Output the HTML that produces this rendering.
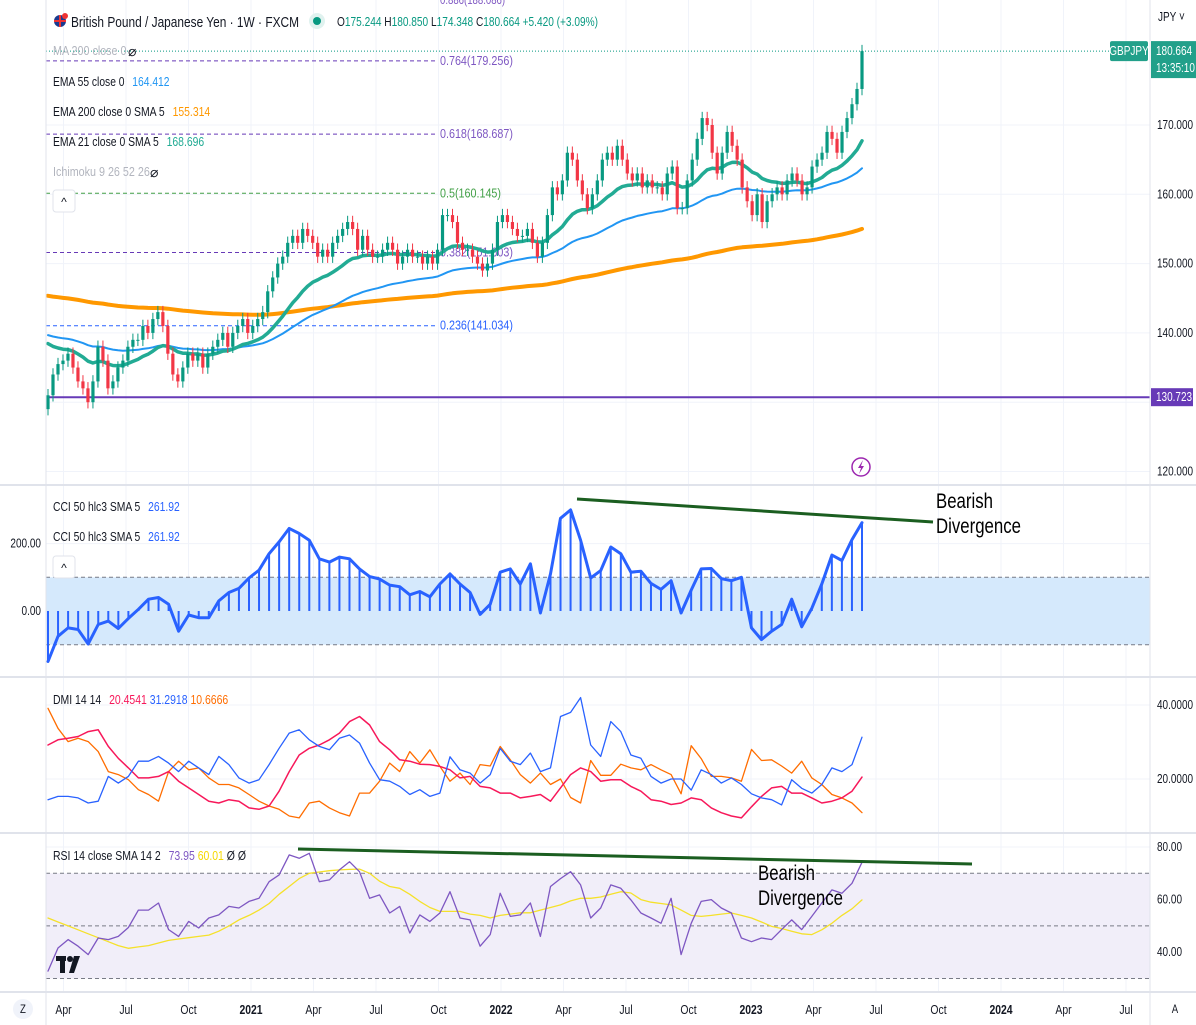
<!DOCTYPE html>
<html><head><meta charset="utf-8">
<style>
html,body{margin:0;padding:0;background:#fff;}
svg{display:block;font-family:"Liberation Sans",sans-serif;}
</style></head>
<body>
<svg id="chart" width="1196" height="1025" viewBox="0 0 1196 1025" xmlns="http://www.w3.org/2000/svg">
<rect x="0" y="0" width="1196" height="1025" fill="#fff"/>
<g id="grid"></g>
<g id="bands"></g>
<g id="price"></g>
<g id="cci"></g>
<g id="dmi"></g>
<g id="rsi"></g>
<g id="axes"></g>

<g>
  <circle cx="60" cy="21" r="6" fill="#1a3a8f"/>
  <path d="M54 21h12M60 15v12" stroke="#e33" stroke-width="2"/>
  <circle cx="65" cy="16" r="3" fill="#e33"/>
  <text x="71" y="27" font-size="15" fill="#131722" textLength="228" lengthAdjust="spacingAndGlyphs">British Pound / Japanese Yen · 1W · FXCM</text>
  <circle cx="317" cy="21" r="8" fill="#e0f2ef"/>
  <circle cx="317" cy="21" r="4" fill="#089981"/>
  <text x="337" y="26" font-size="13" fill="#131722" textLength="261" lengthAdjust="spacingAndGlyphs">O<tspan fill="#089981">175.244</tspan> H<tspan fill="#089981">180.850</tspan> L<tspan fill="#089981">174.348</tspan> C<tspan fill="#089981">180.664 +5.420 (+3.09%)</tspan></text>
  <text class="cz" x="440" y="4" font-size="12" fill="#7e57c2">0.886(188.086)</text>
</g>
<g font-size="12.5">
  <text class="cz cw" x="53" y="55" fill="#b2b5be">MA 200 close 0</text>
  <text x="128" y="56" fill="#131722" font-size="14">⌀</text>
  <text class="cz cw" x="53" y="86" fill="#131722">EMA 55 close 0 <tspan dx="6" fill="#2196f3">164.412</tspan></text>
  <text class="cz cw" x="53" y="116" fill="#131722">EMA 200 close 0 SMA 5 <tspan dx="6" fill="#ff9800">155.314</tspan></text>
  <text class="cz cw" x="53" y="146" fill="#131722">EMA 21 close 0 SMA 5 <tspan dx="6" fill="#22ab94">168.696</tspan></text>
  <text class="cz cw" x="53" y="176" fill="#b2b5be">Ichimoku 9 26 52 26</text>
  <text x="150" y="177" fill="#131722" font-size="14">⌀</text>
  <rect x="53" y="190" width="22" height="22" rx="3" fill="#fff" stroke="#e0e3eb"/>
  <text x="64" y="206" font-size="12" text-anchor="middle" fill="#131722">^</text>
  <text class="cz cw" x="53" y="511" fill="#131722">CCI 50 hlc3 SMA 5 <tspan dx="6" fill="#2962ff">261.92</tspan></text>
  <text class="cz cw" x="53" y="541" fill="#131722">CCI 50 hlc3 SMA 5 <tspan dx="6" fill="#2962ff">261.92</tspan></text>
  <rect x="53" y="556" width="22" height="22" rx="3" fill="#fff" stroke="#e0e3eb"/>
  <text x="64" y="572" font-size="12" text-anchor="middle" fill="#131722">^</text>
  <text class="cz cw" x="53" y="704" fill="#131722">DMI 14 14 <tspan dx="6" fill="#f7185a">20.4541</tspan> <tspan fill="#2962ff">31.2918</tspan> <tspan fill="#ff6d00">10.6666</tspan></text>
  <text class="cz cw" x="53" y="860" fill="#131722">RSI 14 close SMA 14 2 <tspan dx="6" fill="#7e57c2">73.95</tspan> <tspan fill="#f5d800">60.01</tspan> Ø Ø</text>
</g>
<g>
  <rect x="56" y="956" width="10" height="5" fill="#131722"/>
  <rect x="60" y="956" width="5" height="17" fill="#131722"/>
  <circle cx="70" cy="959" r="3" fill="#131722"/>
  <path d="M74 956h6l-6 17h-5z" fill="#131722"/>
</g>
<g>
  <circle cx="861" cy="467" r="9" fill="#fff" stroke="#9c27b0" stroke-width="1.5"/>
  <path d="M863 460l-5 8h3l-2 6 5-8h-3z" fill="#9c27b0"/>
</g>
<g>
  <line x1="577" y1="499" x2="933" y2="522" stroke="#1b5e20" stroke-width="3"/>
  <text class="cz" x="936" y="508" font-size="21" fill="#000">Bearish</text>
  <text class="cz" x="936" y="533" font-size="21" fill="#000">Divergence</text>
</g>
<g>
  <line x1="298" y1="849" x2="972" y2="864" stroke="#1b5e20" stroke-width="3"/>
  <text class="cz" x="758" y="880" font-size="21" fill="#000">Bearish</text>
  <text class="cz" x="758" y="905" font-size="21" fill="#000">Divergence</text>
</g>
</svg>
<script>
const closes = [131,134,135.5,136,137,135,133,132,130,133,138,136,132,133,135,136,138,139,139,141,140,142,143,141,137,134,133,135,137,136,137,135,137,138,139,140,138,140,141,142,140,141,142,143,146,148,150,151,153,154,153,155,154,153,151,152,151,153,154,155,156,155,152,154,152,151,151,152,153,152,150,151,152,151,151,150,151,150,152,157,157,156,153,152,152,151,150,149,150,152,156,157,156,155,154,154,155,153,151,153,157,161,160,162,166,165,162,160,158,160,162,165,166,165,167,165,163,162,163,161,162,161,161,160,163,164,158,158,162,165,168,171,170,166,163,166,169,167,165,161,159,157,160,156,159,160,161,160,162,163,162,160,161,164,165,166,169,168,166,169,171,173,175.2,180.66];
const firstOpen = 129;
const emaSeeds = [139.2, 140, 145.5];
const cciValues = [-150,-75,-50,-55,-98,-40,-30,-52,-22,5,35,40,20,-60,-12,-20,-20,30,55,67,98,121,170,205,245,230,210,155,145,160,155,125,102,95,77,72,48,58,42,80,110,80,55,-10,20,115,125,80,140,-6,110,275,300,210,98,120,190,170,115,118,82,64,90,-6,62,125,126,96,90,100,-50,-85,-60,-40,35,-47,8,80,166,150,212,262];
const adxValues = [29.2,30.6,31,31.5,32.8,33.3,28.8,25.6,23,20.3,20.3,20.7,22,19.4,17.6,15.8,14,13.5,14.4,14,12.2,11.8,12.7,16.7,22,26.5,28.3,29.2,30.6,32.4,35.5,36.9,34.6,30.1,27.9,25.2,24.8,24,23.9,23.4,22.5,20.3,20.7,18,17.6,16.2,16.2,14.9,15.3,15.8,14,17.6,21.2,23,22,19.4,19.8,19.8,18,16.7,14.4,14,13.1,13.5,14.9,14.4,12.2,10.9,10,9.5,12.5,15.3,17.6,18,16.2,16.2,14.9,13.5,14,14.9,16.7,20.5];
const plusDI = [14.4,15.3,15.3,14.9,13.5,14,20.7,18.9,20.7,24.8,24.8,26.1,24.3,22,24.8,23,21.2,26.1,23.9,20.3,18.9,19.8,23.9,28.3,32.4,33.3,30.6,28.8,27.9,31,31.9,29.7,24.3,19.8,19.4,18,15.8,17.1,15.3,16.2,26,22.5,21.6,18.9,21.2,28.3,24.8,23.9,27,22,23,36.9,38,42,29.2,26.1,35.5,32.8,26.5,25.6,20.7,18.9,20,20,17,22.5,21.2,18.9,20.3,18.5,16,14.9,14.4,13,19.8,17.5,16.2,18.5,23,22,23.9,31.3];
const minusDI = [39.1,33.7,30.1,31,30.1,27.4,22,21.2,19.8,17.1,15.8,14,22,24.8,22.5,23,20.3,18.5,18.5,17.6,15.8,14,12.7,11.8,10,9.5,13.5,14,12.2,10.9,10,16.2,16.2,19.4,24.3,22,27.4,24.3,27.9,23.4,19.4,21.6,18.5,23.9,23.5,28.8,25.2,21.2,18.9,21.6,18.5,20,15,13.5,25,21,21,24,23,22.5,23.9,22.5,21.2,16,29,25.5,20.7,20.7,20.3,19.4,28,25,25.2,23.5,21.6,24.8,20.3,18.5,15.8,14.9,13.5,10.9];
const rsiValues = [32.8,41.6,44.8,42.3,39.1,45.4,44.8,46,49.4,56,56,58.7,48.6,46,51.7,49.2,53,54.2,57.4,56.8,59.3,60.5,66.8,69.4,77,75.7,77.6,66.8,67.5,71.3,74.4,70.6,60.5,61.8,54.9,57.4,47.3,54.2,51.7,54.9,63,53,52.3,42.3,46.7,62.4,53.6,54.2,58.7,46,65,68,70.6,65.6,53,56.8,65.6,64.3,59.9,54.9,53,51,60.5,39.1,51,59.3,60,56.8,54.9,45.4,44,45.4,44.8,48.6,52.3,48.6,53.6,58.7,63.7,62.4,66.2,74.2];
const rsiSma = [53,51.5,50,48.5,47,45.5,44,42.5,41.5,42,42.5,43.5,44.5,45,45.5,46,46.5,48,50,52.3,54,56,58.5,62,65,68,70,70.5,71,71.3,71.5,71.6,70,67,65,64.3,62,59.3,57,55.5,55.5,55.5,54.5,54,53,54,54.5,55,55,56,57,58,59.5,60.5,60.5,61,62,63,62.5,60,59,58.5,58,56,54,53.6,54,54.5,54.9,54,53,51.5,49.8,49,48,47,46.7,48.5,51,54,56.5,59.9];
const priceTicks = [120,130,140,150,160,170];
const cciTicks = [0,200];
const dmiTicks = [20,40];
const rsiTicks = [40,60,80];
const timeLabels = ["Apr","Jul","Oct","2021","Apr","Jul","Oct","2022","Apr","Jul","Oct","2023","Apr","Jul","Oct","2024","Apr","Jul"];
const timeIndex = [0.25,0.5,0.75,1,1.25,1.5,1.75,2,2.25,2.5,2.75,3,3.25,3.5,3.75,4,4.25,4.5];
const fibLevels = [0.764,0.618,0.5,0.382,0.236];
const fibPrices = [179.256,168.687,160.145,151.603,141.034];
const lastPrice = 180.664;
const hLinePrice = 130.723;

const NS='http://www.w3.org/2000/svg';
const X0=48, X1=862, L=46, R=1150;
const xBar = i => X0 + i*(X1-X0)/(closes.length-1);
const xInd = (i,n) => X0 + i*(X1-X0)/(n-1);
function xT(t){ return 251 + (t-1)*250; }
const yP = p => 125 + (170-p)*6.93;
const yC = v => 611 - v*0.337;
const yD = v => 705 + (40-v)*3.7;
const yR = v => 847 + (80-v)*2.63;

function el(tag, attrs, parent){
  const e=document.createElementNS(NS,tag);
  for(const k in attrs) e.setAttribute(k,attrs[k]);
  parent.appendChild(e); return e;
}
const G = id => document.getElementById(id);

const grid=G('grid');
timeIndex.forEach(t=>{
  const x=xT(t);
  const ln=el('line',{x1:x,y1:0,x2:x,y2:992,stroke:'#f0f3fa','stroke-width':1},grid);
  
  
});
priceTicks.forEach(p=>{el('line',{x1:L,y1:yP(p),x2:R,y2:yP(p),stroke:'#f0f3fa'},grid);});
cciTicks.forEach(v=>{el('line',{x1:L,y1:yC(v),x2:R,y2:yC(v),stroke:'#f0f3fa'},grid);});
dmiTicks.forEach(v=>{el('line',{x1:L,y1:yD(v),x2:R,y2:yD(v),stroke:'#f0f3fa'},grid);});
rsiTicks.forEach(v=>{el('line',{x1:L,y1:yR(v),x2:R,y2:yR(v),stroke:'#f0f3fa'},grid);});

const bands=G('bands');
el('rect',{x:L,y:yC(100),width:R-L,height:yC(-100)-yC(100),fill:'#d5e9fc'},bands);
[100,-100].forEach(v=>el('line',{x1:L,y1:yC(v),x2:R,y2:yC(v),stroke:'#787b86','stroke-dasharray':'4 3'},bands));
el('rect',{x:L,y:yR(70),width:R-L,height:yR(30)-yR(70),fill:'#f1eef9'},bands);
[70,50,30].forEach(v=>el('line',{x1:L,y1:yR(v),x2:R,y2:yR(v),stroke:'#787b86','stroke-dasharray':'4 3'},bands));

const price=G('price');
const fibColors=['#673ab7','#673ab7','#43a047','#673ab7','#2962ff'];
fibLevels.forEach((f,i)=>{
  const y=yP(fibPrices[i]);
  const ln=el('line',{x1:L,y1:y,x2:435,y2:y,stroke:fibColors[i],'stroke-dasharray':'4 3'},price);
  
  
  const t=el('text',{x:440,y:y+4,'font-size':12.5,fill:fibColors[i]==='#673ab7'?'#7e57c2':fibColors[i],'class':'cz cw'},price);
  t.textContent=f+'('+fibPrices[i].toFixed(3)+')';
  
  
});
const hl=el('line',{x1:L,y1:yP(hLinePrice),x2:R,y2:yP(hLinePrice),stroke:'#673ab7','stroke-width':2},price);


const lp=el('line',{x1:L,y1:yP(lastPrice),x2:1110,y2:yP(lastPrice),stroke:'#089981','stroke-dasharray':'1 2'},price);


function ema(period, seed){
  const a=2/(period+1); let v=seed; const out=[];
  closes.forEach(c=>{v=v+a*(c-v); out.push(v);});
  return out;
}
function polyline(vals, xf, yf, color, w, parent, name){
  const pts=vals.map((v,i)=>xf(i).toFixed(1)+','+yf(v).toFixed(1)).join(' ');
  const p=el('polyline',{points:pts,fill:'none',stroke:color,'stroke-width':w,'stroke-linejoin':'round','stroke-linecap':'round'},parent);
  
  
  return p;
}
polyline(ema(200,emaSeeds[2]), xBar, yP, '#ff9800', 4, price, 'ema200-line');
polyline(ema(55,emaSeeds[1]), xBar, yP, '#2196f3', 2, price, 'ema55-line');
polyline(ema(21,emaSeeds[0]), xBar, yP, '#22ab94', 3.5, price, 'ema21-line');
closes.forEach((c,i)=>{
  const o = i===0 ? firstOpen : closes[i-1];
  const up = c>=o; const col = up?'#089981':'#f23645';
  const x=xBar(i);
  const hi=Math.max(o,c)+0.9, lo=Math.min(o,c)-0.9;
  el('line',{x1:x,y1:yP(hi),x2:x,y2:yP(lo),stroke:col,'stroke-width':1},price);
  const top=yP(Math.max(o,c)), bot=yP(Math.min(o,c));
  const r=el('rect',{x:x-1.6,y:top,width:3.2,height:Math.max(1,bot-top),fill:col},price);
  
  
});

const cci=G('cci');
cciValues.forEach((v,i)=>{
  const x=xInd(i,cciValues.length);
  const b=el('line',{x1:x,y1:yC(0),x2:x,y2:yC(v),stroke:'#2962ff','stroke-width':2},cci);
  
  
});
polyline(cciValues, i=>xInd(i,cciValues.length), yC, '#2962ff', 3, cci, 'cci-line');

const dmi=G('dmi');
polyline(minusDI, i=>xInd(i,minusDI.length), yD, '#ff6d00', 1.3, dmi, 'dmi-minus-di-line');
polyline(adxValues, i=>xInd(i,adxValues.length), yD, '#f7185a', 1.5, dmi, 'dmi-adx-line');
polyline(plusDI, i=>xInd(i,plusDI.length), yD, '#2962ff', 1.3, dmi, 'dmi-plus-di-line');

const rsi=G('rsi');
polyline(rsiSma, i=>xInd(i,rsiSma.length), yR, '#f5e12a', 1.3, rsi, 'rsi-sma-line');
polyline(rsiValues, i=>xInd(i,rsiValues.length), yR, '#7e57c2', 1.3, rsi, 'rsi-line');

const axes=G('axes');
el('line',{x1:R,y1:0,x2:R,y2:1025,stroke:'#e0e3eb'},axes);
el('line',{x1:L,y1:0,x2:L,y2:1025,stroke:'#e0e3eb'},axes);
[485,677,833,992].forEach(y=>el('rect',{x:0,y:y-1,width:1196,height:2,fill:'#e0e3eb'},axes));
function label(x,y,txt,anchor,fill,size,name){
  const t=el('text',{x:x,y:y,'text-anchor':anchor||'start','font-size':size||12.5,fill:fill||'#131722','class':'cz'},axes);
  t.textContent=txt;
  
  
  return t;
}
priceTicks.forEach(p=>label(1157,yP(p)+4,p.toFixed(3),'start','#131722',12.5,'price-tick-label'));
cciTicks.forEach(v=>label(41,yC(v)+4,v.toFixed(2),'end','#131722',12.5,'cci-tick-label'));
dmiTicks.forEach(v=>label(1157,yD(v)+4,v.toFixed(4),'start','#131722',12.5,'dmi-tick-label'));
rsiTicks.forEach(v=>label(1157,yR(v)+4,v.toFixed(2),'start','#131722',12.5,'rsi-tick-label'));
timeLabels.forEach((s,i)=>{
  const bold=/^\d{4}$/.test(s);
  const t=label(xT(timeIndex[i]),1014,s,'middle','#131722',13,'time-tick-label');
  if(bold) t.setAttribute('font-weight','bold');
});
label(1158,21,'JPY ˅','start','#131722',12.5,'currency-selector');
const tagY=yP(lastPrice);
el('rect',{x:1110,y:tagY-10,width:38,height:20,rx:2,fill:'#22a08a'},axes);
label(1129,tagY+4,'GBPJPY','middle','#fff',12.5,'symbol-tag');
el('rect',{x:1151,y:tagY-10,width:45,height:37,fill:'#22a08a'},axes);
label(1156,tagY+4,lastPrice.toFixed(3),'start','#fff',12.5,'last-price-tag');
label(1156,tagY+21,'13:35:10','start','#fff',12.5,'countdown-tag');
const hy=yP(hLinePrice);
el('rect',{x:1151,y:hy-9,width:42,height:18,fill:'#673ab7'},axes);
label(1156,hy+4,hLinePrice.toFixed(3),'start','#fff',12.5,'hline-price-tag');
el('circle',{cx:23,cy:1009,r:10,fill:'#f0f3fa'},axes);
label(23,1013,'Z','middle','#131722',12,'zoom-button');
label(1175,1013,'A','middle','#131722',12,'auto-scale-button');

document.querySelectorAll('text.cz').forEach(t=>{
  const w=t.getComputedTextLength();
  const k=t.classList.contains('cw')?0.86:0.8;
  if(w>0){ t.setAttribute('textLength',(w*k).toFixed(1)); t.setAttribute('lengthAdjust','spacingAndGlyphs'); }
});
</script>
</body></html>
